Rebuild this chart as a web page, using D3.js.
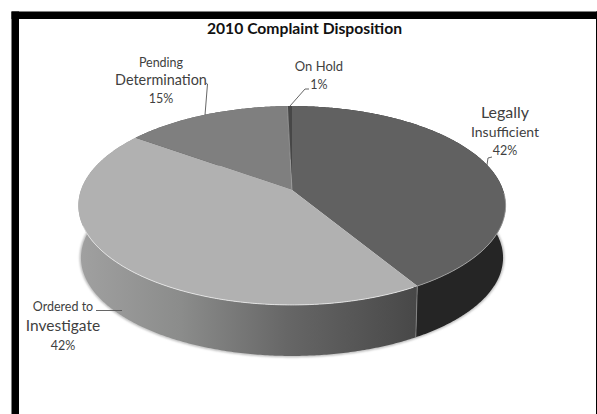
<!DOCTYPE html>
<html>
<head>
<meta charset="utf-8">
<script src="https://cdn.jsdelivr.net/npm/d3@7"></script>
<style>
html,body{margin:0;padding:0;background:#fff;overflow:hidden}
svg{display:block}
text{font-family:Lato,"Open Sans",sans-serif;fill:#3f3f3f;text-anchor:middle}
</style>
</head>
<body>
<svg id="c" width="597" height="414"></svg>
<script>
// Data
const categories = ["Legally Insufficient", "Ordered to Investigate", "Pending Determination", "On Hold"];
const percentLabels = [42, 42, 15, 1];
// Slice shares as drawn (measured from slice boundaries on the rim)
const sliceShares = [41.4, 43.6, 14.6, 0.4];
const chartTitle = "2010 Complaint Disposition";

// Styles
const topColors = ["#616161", "#b1b1b1", "#7f7f7f", "#474747"];
const wallColors = ["#252525", "url(#wallGrad)", "#555", "#333"];

// Pie layout and perspective projection
const W = 597, H = 414;
const cx = 292, cy = 190, R = 211, A = 97, k = -0.156;
const depth = 52.4, bottomScale = 0.988;

const svg = d3.select("#c");
const defs = svg.append("defs");
defs.append("filter").attr("id", "soft").append("feGaussianBlur").attr("stdDeviation", 1);
const grad = defs.append("linearGradient").attr("id", "wallGrad")
  .attr("gradientUnits", "userSpaceOnUse").attr("x1", 80).attr("x2", 416).attr("y1", 0).attr("y2", 0);
[[0, "#a0a0a0"], [0.3, "#8b8c8b"], [0.62, "#666"], [1, "#484848"]]
  .forEach(s => grad.append("stop").attr("offset", s[0]).attr("stop-color", s[1]));

const arcs = d3.pie().sort(null).value(d => d).startAngle(0).endAngle(2 * Math.PI)(sliceShares);

function project(t, scale = 1, dy = 0) {
  const u = Math.sin(t), v = -Math.cos(t), w = 1 + k * v;
  return [cx + scale * R * u / w, cy + dy + scale * A * v / w];
}
function samples(a0, a1) {
  const n = Math.max(2, Math.ceil((a1 - a0) / 0.01));
  return d3.range(n + 1).map(i => a0 + (a1 - a0) * i / n);
}
const line = d3.line().curve(d3.curveLinear);

// Page frame
svg.append("rect").attr("width", W).attr("height", H).attr("fill", "#fff");
svg.append("rect").attr("x", 11.5).attr("y", 11.5).attr("width", 7.5).attr("height", H).attr("fill", "#000");
svg.append("rect").attr("x", 11.5).attr("y", 11.5).attr("width", W).attr("height", 7.5).attr("fill", "#000");
svg.append("rect").attr("x", 596).attr("y", 11.5).attr("width", 1).attr("height", H).attr("fill", "#000");

// Soft halo under the base
svg.append("path")
  .attr("d", line(samples(Math.PI * 0.42, Math.PI * 1.58).map(t => project(t, bottomScale, depth))))
  .attr("fill", "none").attr("stroke", "#b5b5b5").attr("stroke-width", 2.5).attr("filter", "url(#soft)");

// Walls
svg.append("g").selectAll("path").data(arcs).join("path")
  .attr("fill", (d, i) => wallColors[i])
  .attr("d", d => {
    const ts = samples(d.startAngle, d.endAngle);
    return line(ts.map(t => project(t)).concat(ts.slice().reverse().map(t => project(t, bottomScale, depth)))) + "Z";
  });

// Seam between the two front walls
svg.append("path")
  .attr("d", line([project(arcs[0].endAngle), project(arcs[0].endAngle, bottomScale, depth)]))
  .attr("stroke", "#8a8a8a").attr("stroke-width", 0.8).attr("fill", "none");

// Top faces
svg.append("g").selectAll("path").data(arcs).join("path")
  .attr("fill", (d, i) => topColors[i])
  .attr("d", d => line([[cx, cy]].concat(samples(d.startAngle, d.endAngle).map(t => project(t)))) + "Z");

// Highlight on slice seams and the front rim
svg.append("path")
  .attr("d", line([[cx, cy], project(arcs[2].endAngle)]))
  .attr("stroke", "#a5a5a5").attr("stroke-width", 0.7).attr("fill", "none");
svg.append("path")
  .attr("d", line(samples(arcs[1].startAngle + 0.02, arcs[1].startAngle + 1.75).map(t => project(t))))
  .attr("stroke", "#eee").attr("stroke-width", 0.8).attr("fill", "none");
svg.append("path")
  .attr("d", line(samples(arcs[0].endAngle - 1.0, arcs[0].endAngle).map(t => project(t))))
  .attr("stroke", "#a8a8a8").attr("stroke-width", 0.8).attr("fill", "none");

// Title
svg.append("text").attr("x", 304.5).attr("y", 33.5)
  .style("font-size", "15.7px").style("font-weight", 700).style("fill", "#111").text(chartTitle);

// Data labels: each line has its own size as in the reference
const labelLayout = [
  { x: 505, lines: [["Legally", 118, 16], ["Insufficient", 137, 14], [percentLabels[0] + "%", 154.5, 12.5]] },
  { x: 63,  lines: [["Ordered to", 311, 12.5], ["Investigate", 331, 15.5], [percentLabels[1] + "%", 350, 12.5]] },
  { x: 161, lines: [["Pending", 67, 12.5], ["Determination", 85, 14.4], [percentLabels[2] + "%", 102.5, 12.5]] },
  { x: 319, lines: [["On Hold", 71, 13], [percentLabels[3] + "%", 88.5, 12.5]] }
];
const labels = svg.append("g").selectAll("g").data(labelLayout).join("g");
labels.selectAll("text").data(d => d.lines.map(l => ({ x: d.x, l }))).join("text")
  .attr("x", d => d.x).attr("y", d => d.l[1]).style("font-size", d => d.l[2] + "px").text(d => d.l[0]);

// Leader lines
const leaders = [
  [[487, 165], [488, 158], [492, 157]],
  [[122, 310.5], [96, 310.5]],
  [[205, 115], [207.5, 84], [206, 83]],
  [[290, 106], [305, 89], [309, 89]]
];
svg.append("g").selectAll("path").data(leaders).join("path")
  .attr("d", d => line(d)).attr("fill", "none").attr("stroke", "#555").attr("stroke-width", 0.9);
</script>
</body>
</html>
